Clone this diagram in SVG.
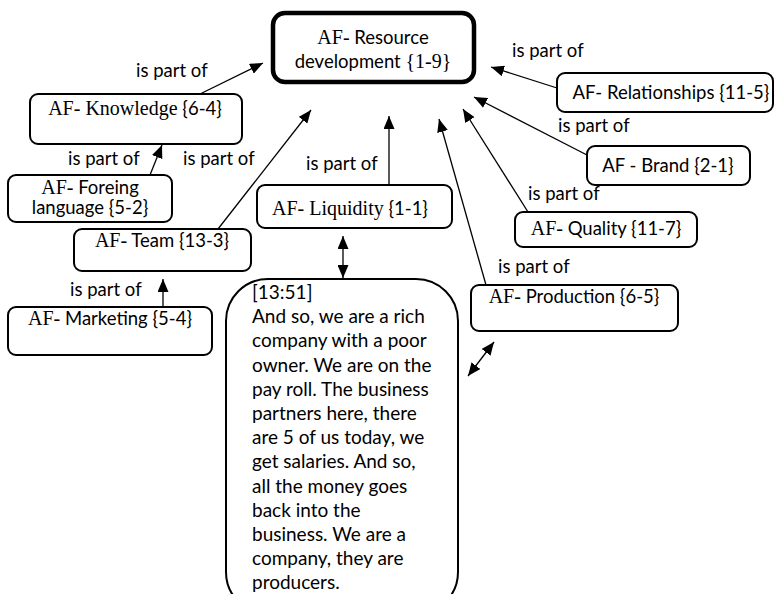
<svg xmlns="http://www.w3.org/2000/svg" width="776" height="594" viewBox="0 0 776 594">
<defs>
<marker id="ah" markerUnits="userSpaceOnUse" markerWidth="13" markerHeight="11" refX="13" refY="5.5" orient="auto-start-reverse">
<path d="M0,0 L13,5.5 L0,11 z" fill="#000"/>
</marker>
<style>
.box{fill:#fff;stroke:#000;stroke-width:2}
.main{fill:#fff;stroke:#000;stroke-width:4.5}
.lbl{font-family:Lato,"Liberation Sans",sans-serif;font-size:18.5px;fill:#000}
.t{font-family:Lato,"Liberation Sans",sans-serif;font-size:18.5px;fill:#000;text-anchor:middle}
.s{font-family:"Liberation Serif","Times New Roman",serif;font-size:20px}
.q{font-family:Lato,"Liberation Sans",sans-serif;font-size:19px;fill:#000}
.c line{stroke:#000;stroke-width:1.3;marker-end:url(#ah)}
</style>
</defs>
<rect width="776" height="594" fill="#fff"/>

<g id="central">
<rect class="main" x="273" y="13" width="201" height="69" rx="12"/>
<text class="t" x="373" y="44"><tspan class="s">AF-</tspan> Resource</text>
<text class="t" x="373" y="68">development <tspan class="s">{1-9}</tspan></text>
</g>

<g id="knowledge">
<rect class="box" x="30" y="94" width="212" height="50" rx="8"/>
<text class="t" x="135" y="115"><tspan class="s">AF- Knowledge</tspan> {6-4}</text>
</g>

<g id="foreing">
<rect class="box" x="8" y="175" width="164" height="47" rx="8"/>
<text class="t" x="90" y="194"><tspan class="s">AF-</tspan> Foreing</text>
<text class="t" x="90" y="214">language {5-2}</text>
</g>

<g id="team">
<rect class="box" x="74" y="229" width="177" height="42" rx="8"/>
<text class="t" x="162" y="247"><tspan class="s">AF-</tspan> Team {13-3}</text>
</g>

<g id="marketing">
<rect class="box" x="8" y="307" width="204" height="48" rx="8"/>
<text class="t" x="110" y="325"><tspan class="s">AF-</tspan> Marketing {5-4}</text>
</g>

<g id="liquidity">
<rect class="box" x="257" y="185" width="195" height="43" rx="8"/>
<text class="t" x="350" y="215"><tspan class="s">AF- Liquidity</tspan> {1-1}</text>
</g>

<g id="production">
<rect class="box" x="471" y="285" width="207" height="46" rx="8"/>
<text class="t" x="574" y="303"><tspan class="s">AF-</tspan> Production {6-5}</text>
</g>

<g id="quality">
<rect class="box" x="515" y="212" width="182" height="35" rx="8"/>
<text class="t" x="606" y="235"><tspan class="s">AF-</tspan> Quality {11-7}</text>
</g>

<g id="brand">
<rect class="box" x="587" y="146" width="163" height="39" rx="8"/>
<text class="t" x="668" y="172">AF - Brand {2-1}</text>
</g>

<g id="relationships">
<rect class="box" x="557" y="73" width="216" height="39" rx="8"/>
<text class="t" x="671" y="99">AF- Relationships {11-5}</text>
</g>

<g id="quote">
<rect class="box" x="226" y="279" width="232" height="335" rx="42"/>
<text class="q" x="252" y="299">[13:51]</text>
<text class="q" x="252" y="323.2">And so, we are a rich</text>
<text class="q" x="252" y="347.4">company with a poor</text>
<text class="q" x="252" y="371.6">owner. We are on the</text>
<text class="q" x="252" y="395.8">pay roll. The business</text>
<text class="q" x="252" y="420">partners here, there</text>
<text class="q" x="252" y="444.2">are 5 of us today, we</text>
<text class="q" x="252" y="468.4">get salaries. And so,</text>
<text class="q" x="252" y="492.6">all the money goes</text>
<text class="q" x="252" y="516.8">back into the</text>
<text class="q" x="252" y="541">business. We are a</text>
<text class="q" x="252" y="565.2">company, they are</text>
<text class="q" x="252" y="589">producers.</text>
</g>

<g id="connectors" class="c">
<line x1="200" y1="94" x2="263" y2="63"/>
<line x1="150" y1="175" x2="162" y2="145"/>
<line x1="218" y1="229" x2="311" y2="110"/>
<line x1="163" y1="307" x2="163" y2="279"/>
<line x1="389" y1="185" x2="389" y2="116"/>
<line x1="343" y1="236" x2="343" y2="278" style="marker-start:url(#ah)"/>
<line x1="486" y1="285" x2="439" y2="119"/>
<line x1="468" y1="376" x2="494" y2="342" style="marker-start:url(#ah)"/>
<line x1="528" y1="212" x2="463" y2="109"/>
<line x1="587" y1="155" x2="474" y2="97"/>
<line x1="557" y1="88" x2="491" y2="67"/>
</g>

<g id="labels">
<text class="lbl" x="136" y="77">is part of</text>
<text class="lbl" x="68" y="165">is part of</text>
<text class="lbl" x="183" y="165">is part of</text>
<text class="lbl" x="70" y="296">is part of</text>
<text class="lbl" x="306" y="170">is part of</text>
<text class="lbl" x="498" y="273">is part of</text>
<text class="lbl" x="528" y="200">is part of</text>
<text class="lbl" x="558" y="132">is part of</text>
<text class="lbl" x="512" y="57">is part of</text>
</g>
</svg>
